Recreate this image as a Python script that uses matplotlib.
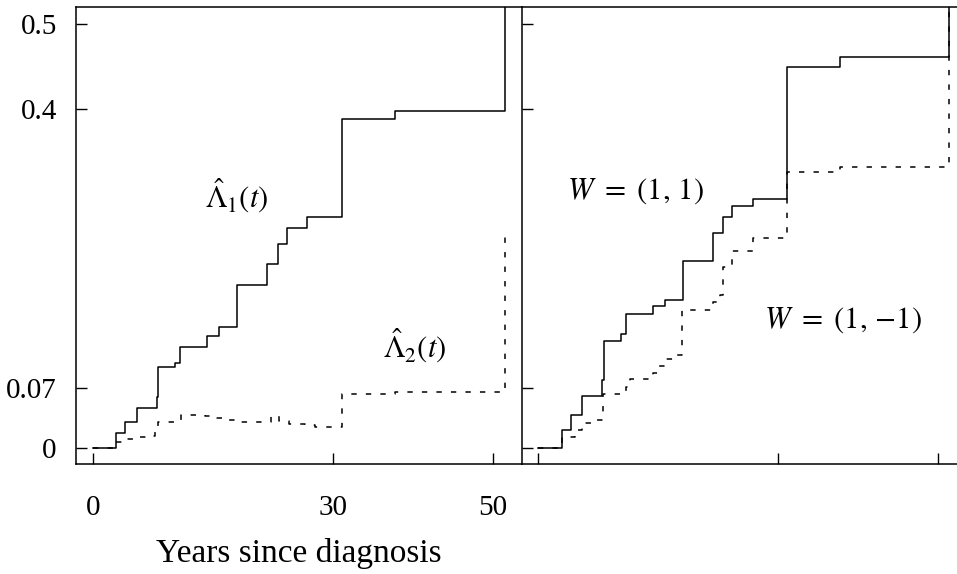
import matplotlib
matplotlib.use('Agg')
import matplotlib.pyplot as plt

plt.rcParams['font.family'] = ['Liberation Serif', 'DejaVu Serif']
plt.rcParams['mathtext.fontset'] = 'stix'

# left panel: cumulative hazard estimates (step times in years)
t_lam1 = [0, 2.9, 4.0, 5.5, 7.96, 8.1, 10.3, 10.9, 14.3, 15.8, 18.0, 21.8, 23.1, 24.2, 26.8, 31.1, 37.7, 51.5]
lam1 = [0, 0.017, 0.030, 0.047, 0.0595, 0.0956, 0.100, 0.119, 0.132, 0.142, 0.192, 0.217, 0.240, 0.259, 0.272, 0.388, 0.397, 0.60]

t_lam2 = [0, 2.9, 4.2, 5.5, 6.9, 7.8, 8.1, 11.0, 14.0, 15.5, 17.0, 18.2, 22.3, 23.3, 24.5, 26.5, 27.8, 31.1, 37.7, 51.5]
lam2 = [0, 0.007, 0.010, 0.013, 0.014, 0.019, 0.031, 0.039, 0.037, 0.035, 0.033, 0.030, 0.037, 0.0315, 0.028, 0.027, 0.024, 0.063, 0.066, 0.258]

# right panel: W = (1, 1) and W = (1, -1)
t_w_plus = [0, 2.95, 4.07, 5.45, 7.94, 8.23, 10.35, 10.97, 14.3, 15.8, 18.04, 21.86, 23.1, 24.2, 26.8, 31.1, 37.7, 51.3]
w_plus = [0, 0.021, 0.0386, 0.0614, 0.080, 0.126, 0.134, 0.158, 0.167, 0.175, 0.221, 0.254, 0.272, 0.285, 0.294, 0.450, 0.461, 0.60]

t_w_minus = [0, 2.95, 4.6, 5.45, 6.7, 7.9, 8.1, 11.0, 11.4, 14.3, 15.0, 15.8, 16.8, 18.0, 21.8, 22.7, 23.1, 24.2, 26.8, 31.1, 37.7, 51.3]
w_minus = [0, 0.013, 0.021, 0.029, 0.033, 0.037, 0.064, 0.072, 0.081, 0.088, 0.096, 0.105, 0.109, 0.163, 0.172, 0.180, 0.214, 0.232, 0.248, 0.326, 0.332, 0.60]

y_ticks = [0, 0.07, 0.4, 0.5]
y_labels = ['0', '0.07', '0.4', '0.5']
x_ticks = [0, 30, 50]
x_labels = ['0', '30', '50']

dash = (0, (3.5, 6))

fig = plt.figure(figsize=(9.57, 5.74), dpi=100)
ax1 = fig.add_axes([0.0797, 0.1911, 0.4655, 0.7962])
ax2 = fig.add_axes([0.5451, 0.1911, 0.4655, 0.7962])

for ax in (ax1, ax2):
    ax.set_xlim(-2.09, 53.6)
    ax.set_ylim(-0.0195, 0.52)
    ax.set_xticks(x_ticks)
    ax.set_yticks(y_ticks)
    ax.tick_params(direction='in', length=8, width=1.0)
    for s in ax.spines.values():
        s.set_linewidth(1.1)

ax1.spines['right'].set_visible(False)
ax1.set_xticklabels(x_labels, fontsize=21)
ax1.set_yticklabels(y_labels, fontsize=21)
ax1.tick_params(axis='x', pad=22)
ax1.tick_params(axis='y', pad=14)
ax2.set_xticklabels([])
ax2.set_yticklabels([])

ax1.step(t_lam1, lam1, where='post', color='black', lw=1.1)
ax1.step(t_lam2, lam2, where='post', color='black', lw=1.1, linestyle=dash)
ax2.step(t_w_plus, w_plus, where='post', color='black', lw=1.1)
ax2.step(t_w_minus, w_minus, where='post', color='black', lw=1.1, linestyle=dash)

ax1.text(18.0, 0.298, r'$\hat{\Lambda}_1(t)$', fontsize=22, ha='center', va='center')
ax1.text(40.2, 0.121, r'$\hat{\Lambda}_2(t)$', fontsize=22, ha='center', va='center')
ax2.text(12.1, 0.303, r'$W\ =\ (1,\,1)$', fontsize=22, ha='center', va='center')
ax2.text(38.1, 0.151, r'$W\ =\ (1,\,{-1})$', fontsize=22, ha='center', va='center')

ax1.set_xlabel('Years since diagnosis', fontsize=24, labelpad=12)

fig.savefig('out.png', dpi=100)
